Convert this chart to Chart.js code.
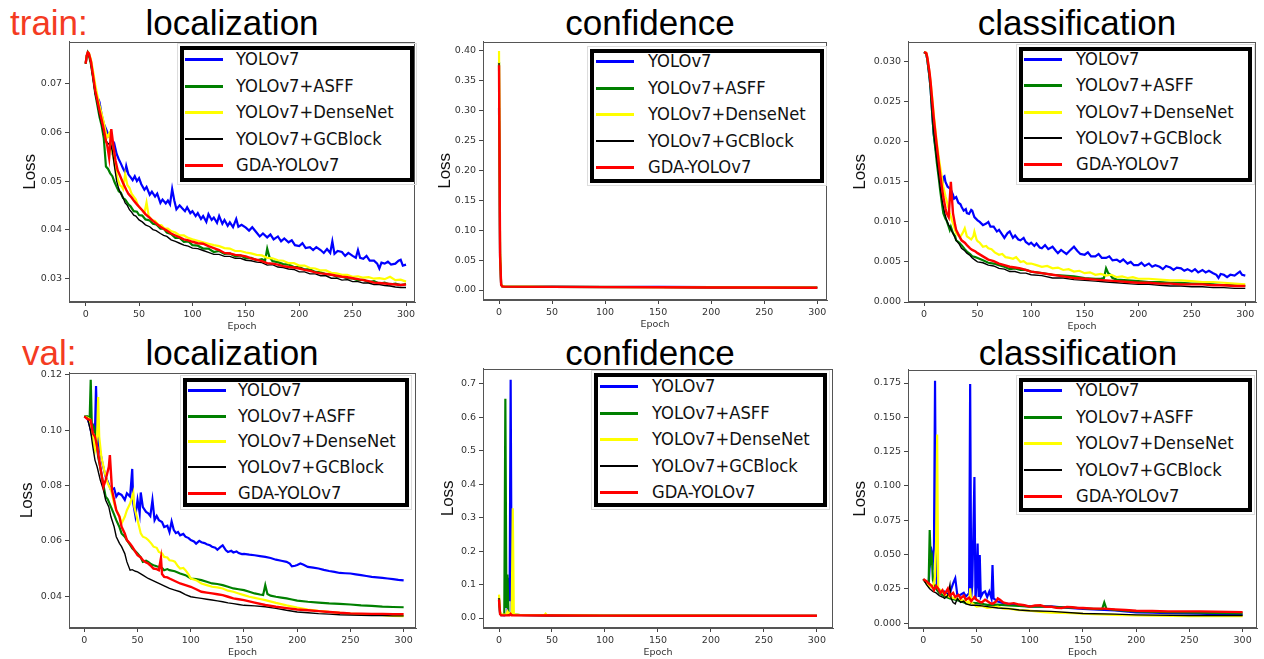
<!DOCTYPE html>
<html><head><meta charset="utf-8">
<script src="https://cdn.jsdelivr.net/npm/chart.js@4.4.1/dist/chart.umd.min.js"></script>
<style>
html,body{margin:0;padding:0;background:#fff}
body{width:1264px;height:659px;overflow:hidden;position:relative;font-family:"Liberation Sans",Arial,sans-serif}
.t{position:absolute;font-size:35px;line-height:35px;white-space:nowrap;color:#000}
.c{width:320px;text-align:center}
.lab{color:#f43b22}
.leg{position:absolute;border:4px solid #000;background:#fff;box-sizing:border-box;outline:1px solid #ddd;outline-offset:2px}
.sw{position:absolute;width:38px}
.lt{position:absolute;font-family:"DejaVu Sans",sans-serif;font-size:18.5px;line-height:20px;height:20px;white-space:nowrap;color:#111;transform:scaleX(0.885);transform-origin:0 50%}
</style></head>
<body>
<div class="t lab" style="left:10px;top:5px">train:</div>
<div class="t c" style="left:72px;top:5px">localization</div>
<div class="t c" style="left:490px;top:5px">confidence</div>
<div class="t c" style="left:917px;top:5px">classification</div>
<div class="t lab" style="left:22px;top:335px">val:</div>
<div class="t c" style="left:72px;top:335px">localization</div>
<div class="t c" style="left:490px;top:335px">confidence</div>
<div class="t c" style="left:918px;top:335px">classification</div>
<script>
// ---------- shared labels ----------
const seriesNames = ['YOLOv7','YOLOv7+ASFF','YOLOv7+DenseNet','YOLOv7+GCBlock','GDA-YOLOv7'];
const epochTicks = [0,50,100,150,200,250,300];
const xTitle = 'Epoch';
const yTitle = 'Loss';

// ---------- train: localization ----------
const trainLocYTicks = [0.03,0.04,0.05,0.06,0.07];
const trainLocYolo = [[0,0.0742],[1,0.0758],[2,0.0765],[3,0.0762],[5,0.0745],[7,0.0715],[9,0.0685],[10,0.0672],[12,0.0668],[13,0.0662],[15,0.0636],[17,0.0618],[20,0.0602],[22,0.0592],[24,0.0586],[25,0.0563],[27,0.0575],[29,0.0556],[31,0.0545],[33,0.0536],[35,0.0526],[37,0.0518],[38,0.0531],[40,0.0514],[42,0.0508],[44,0.0502],[46,0.0510],[48,0.0500],[50,0.0506],[52,0.0494],[55,0.0482],[57,0.0488],[60,0.0472],[62,0.0478],[65,0.0468],[67,0.0474],[70,0.0455],[72,0.0462],[75,0.0454],[77,0.0460],[79,0.0452],[81,0.0484],[83,0.0460],[85,0.0442],[88,0.0450],[90,0.0445],[93,0.0438],[95,0.0446],[98,0.0434],[100,0.0438],[103,0.0428],[105,0.0434],[108,0.0422],[110,0.0428],[113,0.0416],[115,0.0432],[118,0.0420],[120,0.0425],[123,0.0414],[125,0.0428],[128,0.0412],[130,0.0420],[133,0.0408],[135,0.0415],[138,0.0405],[141,0.0422],[143,0.0406],[146,0.0410],[150,0.0404],[153,0.0398],[156,0.0405],[160,0.0394],[163,0.0386],[166,0.0392],[170,0.0384],[173,0.0390],[176,0.0380],[180,0.0386],[183,0.0376],[186,0.0382],[190,0.0374],[193,0.0378],[196,0.0368],[200,0.0366],[203,0.0372],[206,0.0362],[210,0.0364],[213,0.0358],[216,0.0364],[220,0.0358],[223,0.0352],[226,0.0360],[229,0.0352],[231,0.0376],[233,0.0350],[236,0.0356],[240,0.0354],[243,0.0346],[246,0.0352],[250,0.0346],[253,0.0342],[255,0.0358],[257,0.0342],[260,0.0340],[263,0.0346],[266,0.0336],[270,0.0336],[273,0.0330],[275,0.0320],[277,0.0332],[280,0.0330],[283,0.0334],[286,0.0328],[290,0.0330],[293,0.0336],[295,0.0338],[297,0.0326],[300,0.0328]];
const trainLocAsff = [[0,0.0742],[1,0.0758],[2,0.0765],[3,0.0760],[5,0.0740],[7,0.0712],[9,0.0680],[11,0.0656],[13,0.0632],[15,0.0614],[17,0.0588],[19,0.0530],[21,0.0525],[23,0.0516],[25,0.0510],[27,0.0498],[29,0.0488],[31,0.0479],[33,0.0476],[35,0.0465],[37,0.0462],[40,0.0452],[42,0.0448],[45,0.0438],[48,0.0437],[50,0.0430],[53,0.0429],[56,0.0421],[60,0.0419],[63,0.0412],[66,0.0411],[70,0.0402],[73,0.0402],[76,0.0394],[80,0.0391],[84,0.0383],[88,0.0383],[92,0.0375],[96,0.0376],[100,0.0368],[105,0.0367],[110,0.0361],[115,0.0361],[120,0.0354],[125,0.0356],[130,0.0350],[135,0.0351],[140,0.0345],[145,0.0347],[150,0.0341],[155,0.0342],[160,0.0337],[165,0.0339],[168,0.0336],[170,0.0361],[172,0.0344],[175,0.0335],[180,0.0333],[185,0.0329],[190,0.0328],[195,0.0323],[200,0.0323],[205,0.0318],[210,0.0318],[215,0.0313],[220,0.0312],[225,0.0308],[230,0.0308],[235,0.0303],[240,0.0304],[245,0.0299],[250,0.0300],[255,0.0295],[260,0.0297],[265,0.0292],[270,0.0294],[275,0.0289],[280,0.0291],[285,0.0287],[290,0.0289],[295,0.0286],[300,0.0288]];
const trainLocDense = [[0,0.0742],[1,0.0758],[2,0.0765],[3,0.0764],[5,0.0750],[7,0.0725],[9,0.0698],[11,0.0676],[13,0.0655],[15,0.0638],[17,0.0620],[19,0.0598],[20,0.0590],[22,0.0598],[24,0.0570],[26,0.0548],[28,0.0525],[30,0.0504],[32,0.0492],[34,0.0488],[35,0.0484],[37,0.0514],[39,0.0492],[41,0.0486],[43,0.0474],[45,0.0468],[47,0.0462],[49,0.0450],[51,0.0444],[53,0.0440],[55,0.0434],[57,0.0456],[59,0.0428],[62,0.0420],[65,0.0418],[68,0.0410],[71,0.0409],[74,0.0402],[77,0.0402],[80,0.0397],[84,0.0394],[88,0.0388],[92,0.0388],[96,0.0383],[100,0.0380],[105,0.0377],[110,0.0374],[115,0.0371],[120,0.0368],[125,0.0366],[130,0.0362],[135,0.0361],[140,0.0356],[145,0.0356],[150,0.0353],[155,0.0351],[160,0.0348],[165,0.0347],[170,0.0342],[175,0.0341],[180,0.0337],[185,0.0336],[190,0.0331],[195,0.0331],[200,0.0326],[205,0.0326],[210,0.0321],[215,0.0320],[220,0.0316],[225,0.0316],[230,0.0311],[235,0.0310],[240,0.0307],[245,0.0307],[250,0.0303],[255,0.0304],[260,0.0301],[265,0.0302],[270,0.0299],[275,0.0300],[280,0.0298],[285,0.0303],[290,0.0296],[295,0.0297],[300,0.0293]];
const trainLocGc = [[0,0.0742],[1,0.0758],[2,0.0765],[3,0.0761],[5,0.0742],[7,0.0712],[9,0.0680],[11,0.0660],[13,0.0636],[15,0.0618],[17,0.0598],[19,0.0584],[21,0.0576],[23,0.0580],[25,0.0562],[27,0.0530],[29,0.0500],[31,0.0484],[33,0.0474],[35,0.0466],[37,0.0455],[39,0.0450],[41,0.0441],[43,0.0436],[45,0.0430],[47,0.0428],[50,0.0420],[53,0.0416],[56,0.0410],[60,0.0406],[63,0.0400],[66,0.0398],[70,0.0392],[73,0.0388],[76,0.0386],[80,0.0379],[84,0.0376],[88,0.0372],[92,0.0368],[96,0.0366],[100,0.0362],[105,0.0361],[110,0.0357],[115,0.0353],[120,0.0349],[125,0.0349],[130,0.0345],[135,0.0345],[140,0.0341],[145,0.0341],[150,0.0337],[155,0.0336],[160,0.0333],[165,0.0332],[170,0.0327],[175,0.0328],[180,0.0323],[185,0.0322],[190,0.0319],[195,0.0318],[200,0.0313],[205,0.0313],[210,0.0309],[215,0.0309],[220,0.0305],[225,0.0305],[230,0.0300],[235,0.0300],[240,0.0296],[245,0.0297],[250,0.0293],[255,0.0293],[260,0.0290],[265,0.0290],[270,0.0287],[275,0.0287],[280,0.0285],[285,0.0284],[290,0.0282],[295,0.0281],[300,0.0281]];
const trainLocGda = [[0,0.0742],[1,0.0758],[2,0.0765],[3,0.0763],[5,0.0746],[7,0.0716],[9,0.0686],[11,0.0666],[13,0.0645],[15,0.0626],[17,0.0606],[19,0.0582],[20,0.0576],[22,0.0548],[24,0.0607],[26,0.0572],[28,0.0542],[30,0.0522],[32,0.0512],[35,0.0496],[38,0.0482],[40,0.0474],[43,0.0466],[45,0.0460],[48,0.0452],[50,0.0447],[53,0.0440],[56,0.0432],[60,0.0424],[63,0.0418],[66,0.0413],[70,0.0406],[73,0.0402],[76,0.0398],[80,0.0392],[84,0.0388],[88,0.0384],[92,0.0380],[96,0.0378],[100,0.0375],[105,0.0372],[110,0.0371],[115,0.0366],[120,0.0362],[125,0.0358],[130,0.0352],[135,0.0351],[140,0.0348],[145,0.0347],[150,0.0345],[155,0.0341],[160,0.0338],[165,0.0335],[170,0.0331],[175,0.0330],[180,0.0328],[185,0.0325],[190,0.0323],[195,0.0322],[200,0.0320],[205,0.0317],[210,0.0315],[215,0.0312],[220,0.0310],[225,0.0309],[230,0.0307],[235,0.0305],[240,0.0303],[245,0.0302],[250,0.0300],[255,0.0298],[260,0.0296],[265,0.0294],[270,0.0291],[275,0.0290],[280,0.0289],[285,0.0288],[290,0.0287],[295,0.0286],[300,0.0287]];

// ---------- train: confidence ----------
const trainConfYTicks = [0,0.05,0.10,0.15,0.20,0.25,0.30,0.35,0.40];
const trainConfYolo = [[0,0.305],[1,0.05],[2,0.009],[3,0.0065],[5,0.006],[20,0.0058],[50,0.0056],[100,0.0054],[150,0.0051],[200,0.0049],[250,0.0047],[300,0.0046]];
const trainConfAsff = [[0,0.382],[1,0.06],[2,0.009],[3,0.006],[5,0.0058],[50,0.0053],[100,0.0050],[150,0.0047],[200,0.0044],[250,0.0042],[300,0.0040]];
const trainConfDense = [[0,0.400],[1,0.065],[2,0.010],[3,0.0065],[5,0.006],[50,0.0055],[100,0.0052],[150,0.0049],[200,0.0046],[250,0.0044],[300,0.0042]];
const trainConfGc = [[0,0.380],[1,0.06],[2,0.009],[3,0.006],[5,0.0056],[50,0.0051],[100,0.0048],[150,0.0045],[200,0.0042],[250,0.0040],[300,0.0038]];
const trainConfGda = [[0,0.376],[1,0.058],[2,0.009],[3,0.006],[5,0.0057],[50,0.0052],[100,0.0049],[150,0.0046],[200,0.0043],[250,0.0041],[300,0.0039]];

// ---------- train: classification ----------
const trainClsYTicks = [0,0.005,0.010,0.015,0.020,0.025,0.030];
const trainClsYolo = [[0,0.0312],[2,0.0310],[3,0.0303],[5,0.0282],[6,0.0268],[8,0.0228],[9,0.0210],[11,0.0190],[12,0.0181],[14,0.0160],[16,0.0148],[17,0.0146],[18,0.0156],[19,0.0157],[20,0.0150],[22,0.0144],[24,0.0142],[25,0.0140],[27,0.0134],[28,0.0129],[30,0.0131],[32,0.0124],[34,0.0122],[35,0.0119],[37,0.0114],[39,0.0116],[40,0.0111],[42,0.0110],[44,0.0115],[45,0.0114],[47,0.0106],[50,0.0102],[52,0.0100],[55,0.0096],[58,0.0098],[60,0.0100],[62,0.0094],[65,0.0094],[68,0.0088],[70,0.0090],[73,0.0084],[75,0.0080],[78,0.0086],[80,0.0088],[83,0.0080],[85,0.0083],[88,0.0078],[90,0.0077],[93,0.0080],[95,0.0075],[98,0.0072],[100,0.0074],[103,0.0070],[105,0.0073],[108,0.0068],[110,0.0067],[113,0.0071],[116,0.0066],[120,0.0069],[123,0.0064],[125,0.0061],[128,0.0065],[130,0.0063],[133,0.0060],[136,0.0064],[140,0.0069],[143,0.0064],[146,0.0060],[150,0.0059],[153,0.0062],[156,0.0057],[160,0.0057],[163,0.0060],[166,0.0055],[170,0.0055],[173,0.0057],[176,0.0052],[180,0.0053],[183,0.0050],[186,0.0053],[190,0.0048],[193,0.0050],[196,0.0046],[200,0.0046],[203,0.0049],[206,0.0045],[210,0.0048],[213,0.0044],[216,0.0046],[220,0.0044],[223,0.0041],[226,0.0045],[230,0.0043],[233,0.0040],[236,0.0043],[240,0.0042],[243,0.0039],[246,0.0041],[250,0.0038],[253,0.0041],[256,0.0037],[260,0.0040],[263,0.0037],[266,0.0039],[270,0.0036],[273,0.0034],[275,0.0030],[277,0.0035],[280,0.0034],[283,0.0031],[286,0.0034],[290,0.0033],[293,0.0036],[295,0.0038],[297,0.0034],[300,0.0033]];
const trainClsAsff = [[0,0.0312],[2,0.0310],[3,0.0303],[5,0.0282],[6,0.0268],[8,0.0228],[9,0.0210],[11,0.0186],[12,0.0173],[14,0.0152],[15,0.0140],[17,0.0120],[18,0.0111],[20,0.0104],[21,0.0102],[23,0.0094],[24,0.0090],[25,0.0094],[27,0.0086],[29,0.0082],[30,0.0077],[33,0.0074],[35,0.0071],[38,0.0066],[40,0.0063],[43,0.0060],[45,0.0057],[48,0.0056],[50,0.0055],[55,0.0052],[60,0.0049],[65,0.0048],[70,0.0046],[75,0.0044],[80,0.0041],[85,0.0042],[90,0.0040],[95,0.0040],[100,0.0038],[110,0.0036],[120,0.0034],[130,0.0033],[140,0.0032],[150,0.0030],[160,0.0029],[165,0.0029],[168,0.0030],[170,0.0042],[172,0.0036],[174,0.0034],[176,0.0030],[180,0.0028],[190,0.0027],[200,0.0026],[210,0.0025],[220,0.0025],[230,0.0024],[240,0.0024],[250,0.0023],[260,0.0023],[270,0.0022],[280,0.0021],[290,0.0021],[300,0.0020]];
const trainClsDense = [[0,0.0312],[2,0.0311],[3,0.0305],[5,0.0287],[6,0.0276],[8,0.0250],[9,0.0235],[11,0.0210],[12,0.0198],[14,0.0178],[15,0.0169],[17,0.0152],[18,0.0144],[20,0.0132],[21,0.0127],[23,0.0116],[24,0.0111],[26,0.0102],[27,0.0098],[29,0.0090],[30,0.0086],[32,0.0083],[34,0.0082],[36,0.0086],[38,0.0092],[40,0.0082],[42,0.0080],[44,0.0078],[46,0.0082],[47,0.0088],[49,0.0078],[50,0.0076],[52,0.0074],[55,0.0069],[58,0.0070],[60,0.0067],[63,0.0066],[66,0.0062],[70,0.0059],[73,0.0060],[76,0.0056],[80,0.0055],[83,0.0054],[86,0.0056],[90,0.0050],[93,0.0051],[96,0.0048],[100,0.0048],[105,0.0046],[110,0.0044],[115,0.0045],[120,0.0042],[125,0.0043],[130,0.0040],[135,0.0041],[140,0.0038],[145,0.0039],[150,0.0036],[155,0.0037],[160,0.0034],[165,0.0035],[170,0.0033],[175,0.0034],[180,0.0031],[185,0.0032],[190,0.0030],[195,0.0031],[200,0.0029],[210,0.0029],[220,0.0028],[230,0.0027],[240,0.0027],[250,0.0026],[260,0.0025],[270,0.0025],[280,0.0024],[290,0.0023],[300,0.0022]];
const trainClsGc = [[0,0.0312],[2,0.0310],[3,0.0303],[5,0.0282],[6,0.0268],[8,0.0230],[9,0.0214],[11,0.0190],[12,0.0177],[14,0.0155],[15,0.0144],[17,0.0126],[18,0.0119],[20,0.0107],[21,0.0102],[23,0.0096],[24,0.0094],[26,0.0088],[27,0.0086],[29,0.0080],[30,0.0077],[33,0.0072],[35,0.0067],[38,0.0064],[40,0.0061],[43,0.0058],[45,0.0055],[48,0.0052],[50,0.0050],[55,0.0049],[60,0.0046],[65,0.0045],[70,0.0042],[75,0.0041],[80,0.0038],[85,0.0038],[90,0.0036],[95,0.0036],[100,0.0034],[110,0.0033],[120,0.0030],[130,0.0030],[140,0.0028],[150,0.0027],[160,0.0026],[170,0.0025],[180,0.0024],[190,0.0023],[200,0.0022],[210,0.0022],[220,0.0021],[230,0.0020],[240,0.0020],[250,0.0019],[260,0.0019],[270,0.0018],[280,0.0018],[290,0.0017],[300,0.0017]];
const trainClsGda = [[0,0.0312],[2,0.0311],[3,0.0306],[5,0.0288],[6,0.0276],[8,0.0246],[9,0.0231],[11,0.0206],[12,0.0194],[14,0.0171],[15,0.0160],[17,0.0140],[18,0.0131],[20,0.0117],[21,0.0111],[23,0.0106],[25,0.0150],[27,0.0111],[29,0.0096],[30,0.0090],[33,0.0082],[35,0.0077],[38,0.0074],[40,0.0071],[43,0.0067],[45,0.0065],[48,0.0063],[50,0.0061],[55,0.0057],[60,0.0053],[65,0.0051],[70,0.0048],[75,0.0046],[80,0.0044],[85,0.0043],[90,0.0042],[95,0.0040],[100,0.0038],[110,0.0036],[120,0.0034],[130,0.0032],[140,0.0030],[150,0.0029],[160,0.0028],[170,0.0027],[180,0.0026],[190,0.0025],[200,0.0024],[210,0.0024],[220,0.0023],[230,0.0023],[240,0.0022],[250,0.0022],[260,0.0022],[270,0.0021],[280,0.0021],[290,0.0020],[300,0.0020]];

// ---------- val: localization ----------
const valLocYTicks = [0.04,0.06,0.08,0.10,0.12];
const valLocYolo = [[0,0.1050],[3,0.1043],[5,0.1019],[7,0.0983],[9,0.1013],[10,0.1000],[11,0.1160],[12,0.1001],[14,0.0940],[17,0.0880],[20,0.0832],[22,0.0815],[25,0.0784],[28,0.0790],[30,0.0760],[32,0.0772],[35,0.0766],[38,0.0748],[40,0.0772],[43,0.0760],[45,0.0860],[46,0.0735],[48,0.0690],[50,0.0748],[52,0.0700],[53,0.0775],[55,0.0722],[58,0.0705],[60,0.0700],[62,0.0690],[64,0.0748],[66,0.0675],[68,0.0690],[70,0.0675],[73,0.0668],[75,0.0650],[78,0.0655],[80,0.0632],[82,0.0670],[84,0.0640],[86,0.0628],[88,0.0632],[90,0.0620],[93,0.0625],[95,0.0615],[98,0.0610],[100,0.0603],[103,0.0598],[105,0.0590],[108,0.0600],[110,0.0595],[113,0.0592],[115,0.0588],[118,0.0584],[120,0.0579],[123,0.0575],[125,0.0568],[128,0.0578],[130,0.0584],[133,0.0566],[135,0.0560],[138,0.0564],[140,0.0558],[143,0.0562],[145,0.0556],[148,0.0552],[150,0.0553],[155,0.0550],[160,0.0548],[165,0.0545],[170,0.0542],[175,0.0538],[180,0.0532],[185,0.0528],[190,0.0524],[193,0.0518],[195,0.0508],[198,0.0510],[200,0.0513],[203,0.0518],[206,0.0514],[210,0.0506],[215,0.0503],[220,0.0500],[225,0.0495],[230,0.0491],[235,0.0488],[240,0.0484],[245,0.0483],[250,0.0482],[255,0.0479],[260,0.0476],[265,0.0473],[270,0.0470],[275,0.0468],[280,0.0466],[285,0.0464],[290,0.0462],[295,0.0459],[300,0.0457]];
const valLocAsff = [[0,0.1050],[3,0.1050],[5,0.1037],[6,0.1182],[7,0.1025],[9,0.1013],[11,0.0977],[13,0.0904],[16,0.0844],[18,0.0800],[20,0.0760],[22,0.0750],[25,0.0723],[28,0.0695],[30,0.0675],[33,0.0650],[35,0.0627],[38,0.0615],[40,0.0603],[43,0.0585],[45,0.0573],[48,0.0562],[50,0.0554],[53,0.0540],[55,0.0524],[58,0.0528],[60,0.0524],[63,0.0515],[65,0.0512],[68,0.0508],[70,0.0506],[73,0.0502],[75,0.0494],[78,0.0498],[80,0.0494],[85,0.0490],[90,0.0482],[95,0.0476],[100,0.0464],[105,0.0462],[110,0.0458],[115,0.0452],[120,0.0446],[125,0.0444],[130,0.0440],[135,0.0434],[140,0.0428],[145,0.0425],[150,0.0422],[155,0.0416],[160,0.0410],[165,0.0406],[168,0.0404],[170,0.0440],[172,0.0408],[175,0.0402],[180,0.0398],[185,0.0395],[190,0.0392],[195,0.0388],[200,0.0384],[210,0.0380],[220,0.0377],[230,0.0374],[240,0.0372],[250,0.0370],[260,0.0367],[270,0.0365],[280,0.0362],[290,0.0361],[300,0.0360]];
const valLocDense = [[0,0.1050],[3,0.1045],[5,0.1040],[8,0.0977],[10,0.0929],[12,0.0980],[13,0.1120],[14,0.0977],[16,0.0904],[19,0.0850],[22,0.0808],[25,0.0784],[28,0.0735],[30,0.0711],[33,0.0690],[35,0.0663],[38,0.0687],[40,0.0711],[43,0.0735],[45,0.0760],[46,0.0773],[47,0.0723],[50,0.0675],[53,0.0627],[55,0.0615],[58,0.0610],[60,0.0603],[63,0.0590],[65,0.0579],[68,0.0575],[70,0.0560],[73,0.0555],[75,0.0542],[78,0.0540],[80,0.0530],[83,0.0528],[85,0.0525],[88,0.0508],[90,0.0500],[93,0.0502],[95,0.0494],[98,0.0478],[100,0.0464],[105,0.0458],[110,0.0446],[115,0.0440],[120,0.0434],[125,0.0432],[130,0.0428],[135,0.0420],[140,0.0416],[145,0.0410],[150,0.0404],[155,0.0398],[160,0.0394],[165,0.0390],[170,0.0386],[180,0.0376],[190,0.0367],[200,0.0359],[210,0.0352],[220,0.0347],[230,0.0343],[240,0.0340],[250,0.0337],[260,0.0335],[270,0.0334],[280,0.0331],[290,0.0329],[300,0.0328]];
const valLocGc = [[0,0.1050],[3,0.1043],[6,0.0995],[8,0.0940],[10,0.0892],[12,0.0868],[15,0.0820],[18,0.0784],[20,0.0748],[23,0.0723],[25,0.0687],[28,0.0651],[30,0.0615],[33,0.0591],[35,0.0579],[38,0.0554],[40,0.0524],[43,0.0494],[45,0.0496],[48,0.0490],[50,0.0488],[55,0.0476],[60,0.0464],[65,0.0455],[70,0.0446],[75,0.0437],[80,0.0428],[85,0.0422],[90,0.0416],[95,0.0406],[100,0.0398],[105,0.0395],[110,0.0392],[115,0.0389],[120,0.0386],[125,0.0383],[130,0.0380],[135,0.0376],[140,0.0373],[145,0.0370],[150,0.0367],[160,0.0365],[170,0.0362],[180,0.0356],[190,0.0349],[200,0.0343],[210,0.0340],[220,0.0337],[230,0.0335],[240,0.0333],[250,0.0332],[260,0.0331],[270,0.0330],[280,0.0330],[290,0.0329],[300,0.0329]];
const valLocGda = [[0,0.1050],[3,0.1040],[6,0.1037],[8,0.0989],[10,0.0977],[12,0.0940],[15,0.0868],[18,0.0796],[20,0.0820],[23,0.0868],[24,0.0910],[26,0.0784],[28,0.0748],[30,0.0711],[33,0.0687],[35,0.0651],[38,0.0627],[40,0.0603],[43,0.0590],[45,0.0579],[48,0.0560],[50,0.0548],[53,0.0540],[55,0.0530],[58,0.0522],[60,0.0518],[63,0.0508],[65,0.0500],[68,0.0498],[70,0.0494],[72,0.0538],[73,0.0480],[75,0.0470],[78,0.0468],[80,0.0464],[85,0.0455],[90,0.0446],[95,0.0440],[100,0.0434],[105,0.0425],[110,0.0416],[115,0.0413],[120,0.0410],[125,0.0407],[130,0.0404],[135,0.0398],[140,0.0392],[145,0.0389],[150,0.0386],[160,0.0377],[170,0.0368],[180,0.0362],[190,0.0357],[200,0.0352],[210,0.0349],[220,0.0346],[230,0.0343],[240,0.0340],[250,0.0338],[260,0.0337],[270,0.0336],[280,0.0336],[290,0.0335],[300,0.0335]];

// ---------- val: confidence ----------
const valConfYTicks = [0,0.1,0.2,0.3,0.4,0.5,0.6,0.7];
const valConfYolo = [[0,0.055],[1,0.015],[2,0.009],[5,0.008],[8,0.012],[9,0.12],[10,0.05],[11,0.712],[12,0.012],[15,0.010],[20,0.009],[50,0.008],[100,0.0075],[150,0.0072],[200,0.0070],[250,0.0068],[300,0.0067]];
const valConfAsff = [[0,0.06],[1,0.015],[2,0.009],[5,0.010],[6,0.655],[7,0.03],[8,0.13],[9,0.012],[12,0.010],[20,0.009],[50,0.008],[100,0.0075],[150,0.0072],[200,0.0070],[250,0.0068],[300,0.0067]];
const valConfDense = [[0,0.07],[1,0.02],[2,0.010],[7,0.010],[8,0.02],[9,0.015],[12,0.015],[13,0.328],[14,0.012],[20,0.009],[43,0.009],[44,0.013],[45,0.009],[100,0.0075],[150,0.0072],[200,0.0070],[250,0.0068],[300,0.0067]];
const valConfGc = [[0,0.06],[1,0.012],[2,0.008],[10,0.008],[50,0.0075],[100,0.0072],[150,0.0070],[200,0.0068],[250,0.0066],[300,0.0065]];
const valConfGda = [[0,0.055],[1,0.012],[2,0.008],[10,0.008],[11,0.012],[12,0.008],[50,0.0075],[100,0.0072],[150,0.0070],[200,0.0068],[250,0.0068],[300,0.0068]];

// ---------- val: classification ----------
const valClsYTicks = [0,0.025,0.050,0.075,0.100,0.125,0.150,0.175];
const valClsYolo = [[0,0.032],[3,0.029],[5,0.0278],[7,0.0557],[8,0.050],[9,0.045],[10,0.0557],[11,0.1767],[12,0.038],[13,0.025],[15,0.0242],[18,0.022],[20,0.023],[23,0.021],[25,0.022],[28,0.029],[30,0.0327],[32,0.020],[35,0.0206],[38,0.022],[40,0.0194],[43,0.0218],[44,0.1743],[45,0.019],[46,0.027],[48,0.1065],[49,0.017],[50,0.029],[51,0.058],[52,0.019],[53,0.0496],[54,0.019],[56,0.022],[58,0.023],[60,0.019],[62,0.023],[64,0.018],[65,0.0423],[66,0.018],[70,0.0157],[75,0.0145],[80,0.0140],[85,0.0135],[90,0.0128],[95,0.0125],[100,0.0122],[110,0.0122],[120,0.0121],[130,0.0115],[140,0.0109],[150,0.0104],[160,0.0100],[170,0.0096],[180,0.0092],[190,0.0085],[200,0.0078],[215,0.0075],[230,0.0072],[245,0.0070],[260,0.0068],[280,0.0064],[300,0.0060]];
const valClsAsff = [[0,0.032],[3,0.029],[5,0.029],[6,0.0678],[7,0.045],[8,0.048],[9,0.0315],[10,0.029],[12,0.025],[15,0.0218],[20,0.0194],[25,0.018],[30,0.017],[35,0.016],[40,0.0145],[45,0.0148],[50,0.0145],[55,0.014],[60,0.0133],[70,0.0135],[80,0.0128],[90,0.0125],[100,0.0120],[110,0.0122],[120,0.0118],[130,0.0115],[140,0.0112],[150,0.0108],[160,0.0104],[168,0.0102],[170,0.0150],[172,0.0104],[180,0.0096],[190,0.0090],[200,0.0085],[230,0.0080],[260,0.0075],[300,0.0070]];
const valClsDense = [[0,0.032],[3,0.029],[5,0.027],[8,0.026],[10,0.029],[11,0.034],[12,0.060],[13,0.1375],[14,0.025],[16,0.0242],[20,0.021],[25,0.019],[30,0.018],[35,0.017],[40,0.016],[43,0.014],[44,0.0254],[45,0.015],[50,0.012],[55,0.0125],[60,0.011],[65,0.0115],[70,0.012],[75,0.0105],[80,0.0105],[90,0.0095],[100,0.0090],[110,0.0082],[120,0.0075],[130,0.0074],[140,0.0072],[150,0.0068],[160,0.0065],[180,0.0060],[200,0.0055],[250,0.0050],[300,0.0050]];
const valClsGc = [[0,0.032],[3,0.028],[6,0.025],[9,0.023],[12,0.022],[15,0.020],[18,0.019],[20,0.018],[23,0.020],[25,0.0278],[26,0.018],[28,0.015],[30,0.014],[32,0.018],[35,0.015],[38,0.016],[40,0.014],[45,0.013],[50,0.013],[55,0.0125],[60,0.012],[70,0.011],[80,0.0105],[90,0.0095],[100,0.009],[120,0.0085],[150,0.007],[180,0.0065],[200,0.006],[250,0.0055],[300,0.0055]];
const valClsGda = [[0,0.032],[3,0.0305],[5,0.029],[8,0.027],[10,0.024],[12,0.027],[14,0.025],[16,0.022],[18,0.024],[20,0.021],[23,0.025],[25,0.020],[28,0.022],[30,0.019],[33,0.0205],[35,0.018],[38,0.020],[40,0.017],[43,0.0185],[45,0.016],[48,0.019],[50,0.017],[53,0.0155],[55,0.015],[58,0.017],[60,0.016],[63,0.0145],[65,0.014],[68,0.0155],[70,0.018],[72,0.017],[75,0.015],[80,0.014],[85,0.0145],[90,0.0135],[95,0.013],[100,0.012],[105,0.0128],[110,0.013],[115,0.0118],[120,0.012],[125,0.0112],[130,0.011],[135,0.0118],[140,0.0115],[145,0.011],[150,0.011],[160,0.0105],[170,0.0105],[180,0.0100],[190,0.0095],[200,0.0090],[215,0.0088],[230,0.0085],[260,0.0085],[300,0.0080]];

// ---------- styles ----------
const seriesColors = ['#0000ff','#008000','#ffff00','#000000','#ff0000'];
const lineWidths = [2.2,2.2,2.2,1.4,2.4];
const swatchHeights = [3,3,3,2,3];

const panels = [
  {area:{l:69,t:41,r:415,b:302}, xr:[-15.6,308.4], yr:[0.0251,0.0787], yt:trainLocYTicks, dec:2, tp:10.8,
   series:[trainLocYolo,trainLocAsff,trainLocDense,trainLocGc,trainLocGda],
   leg:{x:180,y:46,w:234,h:136,r0:13,step:26.5,sx:5,tx:56}},
  {area:{l:483,t:41,r:827,b:300}, xr:[-15.1,309.2], yr:[-0.0167,0.4155], yt:trainConfYTicks, dec:2, tp:12.3,
   series:[trainConfYolo,trainConfAsff,trainConfDense,trainConfGc,trainConfGda],
   leg:{x:590,y:49,w:234,h:134,r0:12,step:26.5,sx:6,tx:58}},
  {area:{l:908,t:41,r:1256,b:302}, xr:[-15,310], yr:[0,0.0325], yt:trainClsYTicks, dec:3, tp:1.8,
   series:[trainClsYolo,trainClsAsff,trainClsDense,trainClsGc,trainClsGda],
   leg:{x:1019,y:47,w:233,h:135,r0:12,step:26.25,sx:5,tx:57}},
  {area:{l:69,t:372,r:416,b:628}, xr:[-14.4,311.6], yr:[0.0285,0.1208], yt:valLocYTicks, dec:2, tp:7.8,
   series:[valLocYolo,valLocAsff,valLocDense,valLocGc,valLocGda],
   leg:{x:183,y:378,w:226,h:129,r0:12,step:25.7,sx:5,tx:55}},
  {area:{l:483,t:368,r:833,b:628}, xr:[-15.1,315.2], yr:[-0.0298,0.7447], yt:valConfYTicks, dec:1, tp:14.8,
   series:[valConfYolo,valConfAsff,valConfDense,valConfGc,valConfGda],
   leg:{x:594,y:373,w:233,h:134,r0:13,step:26.6,sx:6,tx:58}},
  {area:{l:908,t:369,r:1257,b:628}, xr:[-14.4,313.5], yr:[-0.0036,0.1847], yt:valClsYTicks, dec:3, tp:1.8,
   series:[valClsYolo,valClsAsff,valClsDense,valClsGc,valClsGda],
   leg:{x:1019,y:378,w:233,h:134,r0:12,step:26.5,sx:5,tx:57}}
];

const framePlugin = {
  id:'frame',
  afterDatasetsDraw(chart){
    const a = chart.chartArea, ctx = chart.ctx;
    ctx.save();
    ctx.strokeStyle = '#555'; ctx.lineWidth = 1;
    ctx.strokeRect(Math.round(a.left)+0.5, Math.round(a.top)+0.5, Math.round(a.right-a.left)-1, Math.round(a.bottom-a.top)-1);
    ctx.restore();
  }
};

const tickFont = {family:'DejaVu Sans', size:9.5};
const gridOpt = {drawOnChartArea:false, drawTicks:true, tickLength:4, color:'#444'};
const borderOpt = {display:true, color:'#555', width:1};

function makePanel(p){
  const YW = 60, XH = 30, PT = 8, PR = 8;
  const cl = p.area.l - YW, ct = p.area.t - PT;
  const w = p.area.r + PR - cl, h = p.area.b + XH - ct;
  const c = document.createElement('canvas');
  c.width = w; c.height = h;
  c.style.cssText = 'position:absolute;left:'+cl+'px;top:'+ct+'px;width:'+w+'px;height:'+h+'px';
  document.body.appendChild(c);
  new Chart(c, {
    type:'line',
    data:{datasets:p.series.map((s,i)=>({
      label:seriesNames[i],
      data:s.map(d=>({x:d[0],y:d[1]})),
      borderColor:seriesColors[i], backgroundColor:seriesColors[i],
      borderWidth:lineWidths[i], pointRadius:0, tension:0, fill:false, order:5-i
    }))},
    options:{
      responsive:false, animation:false, devicePixelRatio:1,
      layout:{padding:{top:PT,right:PR,left:0,bottom:0}},
      plugins:{legend:{display:false}, tooltip:{enabled:false}, title:{display:false}},
      scales:{
        x:{type:'linear', min:p.xr[0], max:p.xr[1],
          afterFit(s){ s.height = XH; },
          afterBuildTicks(s){ s.ticks = epochTicks.map(v=>({value:v})); },
          grid:gridOpt, border:borderOpt,
          ticks:{autoSkip:false, maxRotation:0, padding:3, color:'#333', font:tickFont, callback:v=>String(v)},
          title:{display:true, text:xTitle, color:'#333', font:tickFont, padding:{top:0,bottom:0}}},
        y:{type:'linear', min:p.yr[0], max:p.yr[1],
          afterFit(s){ s.width = YW; },
          afterBuildTicks(s){ s.ticks = p.yt.map(v=>({value:v})); },
          grid:gridOpt, border:borderOpt,
          ticks:{autoSkip:false, padding:3, color:'#333', font:tickFont, callback:v=>Number(v).toFixed(p.dec)},
          title:{display:true, text:yTitle, color:'#111', font:{family:'Liberation Sans', size:17}, padding:{top:p.tp,bottom:0}}}
      }
    },
    plugins:[framePlugin]
  });
  // legend (HTML)
  const L = p.leg;
  const d = document.createElement('div');
  d.className = 'leg';
  d.style.cssText = 'left:'+L.x+'px;top:'+L.y+'px;width:'+L.w+'px;height:'+L.h+'px';
  seriesNames.forEach((n,i)=>{
    const cy = Math.round(L.r0 + i*L.step - 4);
    const sw = document.createElement('div');
    sw.className = 'sw';
    sw.style.cssText = 'left:'+(L.sx-4)+'px;top:'+Math.round(cy - swatchHeights[i]/2)+'px;height:'+swatchHeights[i]+'px;background:'+seriesColors[i];
    d.appendChild(sw);
    const tx = document.createElement('div');
    tx.className = 'lt';
    tx.style.cssText = 'left:'+(L.tx-4)+'px;top:'+(cy-10)+'px';
    tx.textContent = n;
    d.appendChild(tx);
  });
  document.body.appendChild(d);
}
panels.forEach(makePanel);
</script>
</body></html>
